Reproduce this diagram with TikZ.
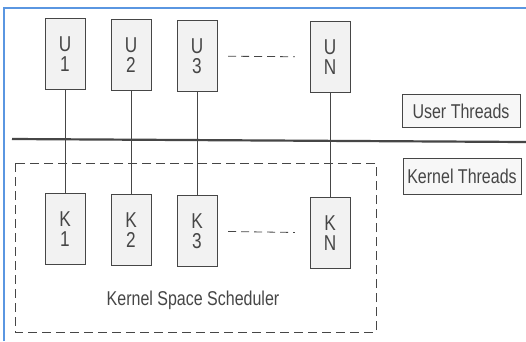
\documentclass[tikz,border=0pt]{standalone}
\usepackage{fontspec}
\setmainfont{Liberation Sans}[FakeStretch=0.8]
\usepackage{tikz}
\usetikzlibrary{positioning,calc}
\definecolor{scangray}{RGB}{70,70,70}
\definecolor{frameblue}{RGB}{90,150,225}
\tikzset{
  thrbox/.style={draw=scangray, fill=gray!10, minimum width=40pt, minimum height=71pt,
                 inner sep=0pt, align=center, text=scangray,
                 font=\fontsize{21.5}{20}\selectfont},
  labbox/.style={draw=scangray, fill=gray!6, minimum width=118pt, inner sep=3pt,
                 text=scangray, font=\fontsize{20}{22}\selectfont},
  link/.style={scangray, thin},
  gapline/.style={scangray, thick, dash pattern=on 8pt off 5pt},
  schedbox/.style={scangray, semithick, dash pattern=on 9pt off 5pt}
}

\begin{document}
\begin{tikzpicture}[x=1pt, y=-1pt]
    \useasboundingbox (0,0) rectangle (526,341);
    \fill[white] (0,0) rectangle (526,341);

    % scan frame
    \draw[frameblue, line width=2pt] (4,341) -- (4,8) -- (526,8);

    % user threads
    \node[thrbox] (u1) at (65,54)  {U\\1};
    \node[thrbox] (u2) at (131,55) {U\\2};
    \node[thrbox] (u3) at (197,56) {U\\3};
    \node[thrbox] (uN) at (330,57) {U\\N};

    % kernel threads
    \node[thrbox] (k1) at (65,229)  {K\\1};
    \node[thrbox] (k2) at (131,230) {K\\2};
    \node[thrbox] (k3) at (197,231) {K\\3};
    \node[thrbox] (kN) at (330,233) {K\\N};

    \draw[gapline, shorten <=11pt, shorten >=15pt] (u3) -- (uN);
    \draw[gapline, shorten <=11pt, shorten >=15pt] (k3) -- (kN);

    % one-to-one mapping
    \foreach \i in {1,2,3,N}
      \draw[link] (u\i) -- (k\i);

    % boundary
    \draw[scangray, line width=2.2pt] (12,139) -- (526,142);

    % scheduler
    \draw[schedbox] (15,163) rectangle (376,332);
    \node[text=scangray, font=\fontsize{20}{22}\selectfont] (sched) at (193,300)
      {Kernel Space Scheduler};

    % legends
    \node[labbox, minimum height=33pt] (ut) at (461,111) {User Threads};
    \node[labbox, minimum height=36pt] (kt) at (462,176) {Kernel Threads};
\end{tikzpicture}
\end{document}
